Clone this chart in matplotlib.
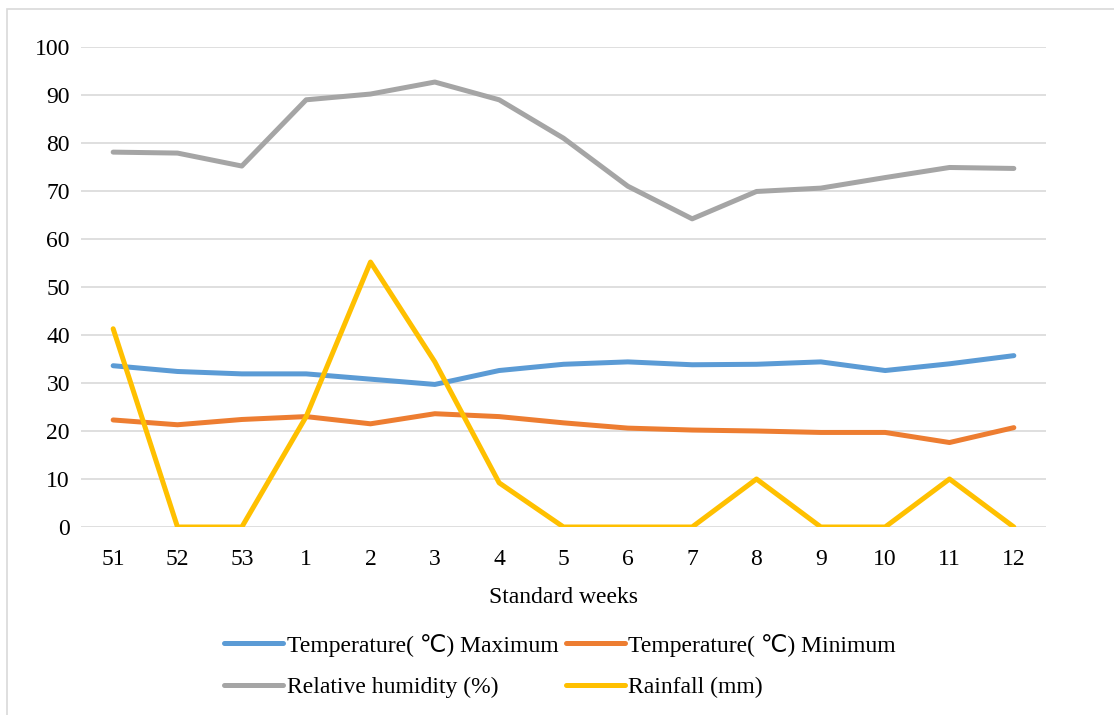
import numpy as np
import matplotlib
matplotlib.use("Agg")
import matplotlib.pyplot as plt
from matplotlib.patches import Rectangle

plt.rcParams['font.family'] = ['Liberation Serif', 'DejaVu Sans']

weeks = ['51', '52', '53', '1', '2', '3', '4', '5', '6', '7', '8', '9', '10', '11', '12']
temp_max = [33.6, 32.4, 31.9, 31.9, 30.8, 29.7, 32.6, 33.9, 34.4, 33.8, 33.9, 34.4, 32.6, 34.0, 35.7]
temp_min = [22.3, 21.3, 22.4, 23.0, 21.5, 23.6, 23.0, 21.7, 20.6, 20.2, 20.0, 19.7, 19.7, 17.6, 20.7]
humidity = [78.1, 77.9, 75.2, 89.0, 90.2, 92.7, 89.0, 81.0, 71.0, 64.2, 69.9, 70.6, 72.8, 74.9, 74.7]
rainfall = [41.3, 0, 0, 23.0, 55.2, 34.4, 9.2, 0, 0, 0, 10, 0, 0, 10, 0]

labels = ['Temperature( ℃) Maximum', 'Temperature( ℃) Minimum',
          'Relative humidity (%)', 'Rainfall (mm)']
colors = ['#5B9BD5', '#ED7D31', '#A5A5A5', '#FFC000']

W, H = 1114, 715
fig = plt.figure(figsize=(W / 100, H / 100), dpi=100)
ax = fig.add_axes([81 / W, 1 - 527 / H, (1046 - 81) / W, (527 - 47) / H])

# chart border like the spreadsheet frame
fig.patches.append(Rectangle((7 / W, -0.05), 1.1, 1.05 - 9 / H, transform=fig.transFigure,
                             fill=False, edgecolor='#D9D9D9', lw=1.2))

x = np.arange(len(weeks))
lines = []
for vals, lab, c in zip([temp_max, temp_min, humidity, rainfall], labels, colors):
    ln, = ax.plot(x, vals, color=c, lw=3.6, label=lab, solid_capstyle='round', zorder=3)
    lines.append(ln)

ax.set_xlim(-0.5, len(weeks) - 0.5)
ax.set_ylim(0, 100)
ax.set_yticks(np.arange(0, 101, 10))
ax.set_xticks(x)
ax.set_xticklabels(weeks)
ax.yaxis.grid(True, color='#D9D9D9', lw=1.2)
ax.set_axisbelow(True)

for s in ax.spines.values():
    s.set_visible(False)
ax.tick_params(axis='both', length=0, labelsize=17, colors='#000000')
ax.tick_params(axis='x', pad=16)
ax.tick_params(axis='y', pad=8)

ax.set_xlabel('Standard weeks', fontsize=17, labelpad=12)

order = [0, 2, 1, 3]
fig.legend([lines[i] for i in order], [labels[i] for i in order],
           ncol=2, loc='center', bbox_to_anchor=(560 / W, 1 - 666 / H),
           frameon=False, fontsize=17, handlelength=2.5, handletextpad=0.15,
           columnspacing=0.3, labelspacing=0.85)

fig.savefig('out.png', dpi=100, facecolor='white')
